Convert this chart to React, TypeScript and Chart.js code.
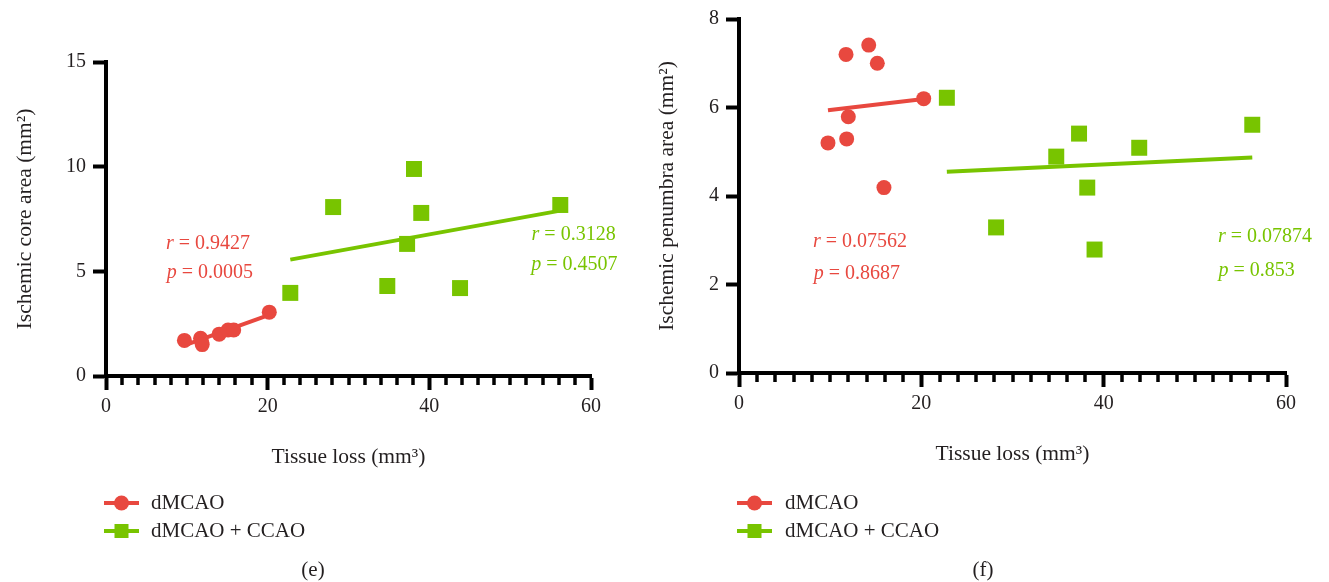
import React, { useEffect, useRef } from 'react';
import { Chart, registerables } from 'chart.js';

Chart.register(...registerables);

// ---------- shared ----------
const seriesNames = ['dMCAO', 'dMCAO + CCAO'];
const xTitle = 'Tissue loss (mm³)';
const xTicks = [0, 20, 40, 60];
const xMinorStep = 2;

// ---------- panel (e): ischemic core ----------
const coreTitle = 'Ischemic core area (mm²)';
const coreYTicks = [0, 5, 10, 15];
const coreRedX = [9.7, 11.7, 11.8, 11.9, 14.0, 15.1, 15.8, 20.2];
const coreRedY = [1.7, 1.8, 1.7, 1.5, 2.0, 2.2, 2.2, 3.05];
const coreGreenX = [22.8, 28.1, 34.8, 37.25, 38.1, 39.0, 43.8, 56.2];
const coreGreenY = [3.97, 8.07, 4.3, 6.31, 9.89, 7.79, 4.2, 8.17];
const coreRedFitX = [9.7, 20.2];
const coreRedFitY = [1.46, 2.92];
const coreGreenFitX = [22.8, 56.2];
const coreGreenFitY = [5.56, 7.9];
const coreRedStats = ['0.9427', '0.0005'];
const coreGreenStats = ['0.3128', '0.4507'];

// ---------- panel (f): ischemic penumbra ----------
const penTitle = 'Ischemic penumbra area (mm²)';
const penYTicks = [0, 2, 4, 6, 8];
const penRedX = [9.76, 11.74, 11.81, 11.99, 14.23, 15.17, 15.9, 20.26];
const penRedY = [5.2, 7.2, 5.29, 5.79, 7.41, 7.0, 4.19, 6.2];
const penGreenX = [22.8, 28.2, 34.8, 37.3, 38.2, 39.0, 43.9, 56.3];
const penGreenY = [6.22, 3.29, 4.89, 5.41, 4.19, 2.79, 5.09, 5.61];
const penRedFitX = [9.76, 20.26];
const penRedFitY = [5.94, 6.19];
const penGreenFitX = [22.8, 56.3];
const penGreenFitY = [4.55, 4.87];
const penRedStats = ['0.07562', '0.8687'];
const penGreenStats = ['0.07874', '0.853'];

// ---------- styles ----------
const RED = '#E8483F';
const GREEN = '#78C400';
const INK = '#231F20';
const FAMILY = "'Liberation Serif', 'DejaVu Serif', serif";
const TICK_SIZE = 20;
const TITLE_SIZE = 21.5;
const LEGEND_SIZE = 21;

type Note = { italic: string; rest: string; x: number; y: number; color: string };
type Spec = {
  left: number;
  width: number;
  height: number;
  padding: { left: number; right: number; top: number; bottom: number };
  yWidth: number;
  xHeight: number;
  yTitle: string;
  yTicks: number[];
  redX: number[]; redY: number[];
  greenX: number[]; greenY: number[];
  redFitX: number[]; redFitY: number[];
  greenFitX: number[]; greenFitY: number[];
  notes: Note[];
  legendLineX: [number, number];
  legendTextX: number;
  legendY: [number, number];
  caption: string;
  captionX: number;
  captionY: number;
};

const pts = (xs: number[], ys: number[]) => xs.map((x, i) => ({ x, y: ys[i] }));

const specs: Spec[] = [
  {
    left: 0, width: 640, height: 582,
    padding: { left: 12, right: 49, top: 62, bottom: 112 },
    yWidth: 94, xHeight: 94,
    yTitle: coreTitle, yTicks: coreYTicks,
    redX: coreRedX, redY: coreRedY, greenX: coreGreenX, greenY: coreGreenY,
    redFitX: coreRedFitX, redFitY: coreRedFitY, greenFitX: coreGreenFitX, greenFitY: coreGreenFitY,
    notes: [
      { italic: 'r', rest: ' = ' + coreRedStats[0], x: 7.42, y: 6.31, color: RED },
      { italic: 'p', rest: ' = ' + coreRedStats[1], x: 7.5, y: 4.92, color: RED },
      { italic: 'r', rest: ' = ' + coreGreenStats[0], x: 52.65, y: 6.74, color: GREEN },
      { italic: 'p', rest: ' = ' + coreGreenStats[1], x: 52.6, y: 5.3, color: GREEN },
    ],
    legendLineX: [104, 139], legendTextX: 151, legendY: [503, 531],
    caption: '(e)', captionX: 313, captionY: 570,
  },
  {
    left: 640, width: 689, height: 582,
    padding: { left: 14, right: 43, top: 18, bottom: 115 },
    yWidth: 85, xHeight: 94,
    yTitle: penTitle, yTicks: penYTicks,
    redX: penRedX, redY: penRedY, greenX: penGreenX, greenY: penGreenY,
    redFitX: penRedFitX, redFitY: penRedFitY, greenFitX: penGreenFitX, greenFitY: penGreenFitY,
    notes: [
      { italic: 'r', rest: ' = ' + penRedStats[0], x: 8.12, y: 2.97, color: RED },
      { italic: 'p', rest: ' = ' + penRedStats[1], x: 8.2, y: 2.25, color: RED },
      { italic: 'r', rest: ' = ' + penGreenStats[0], x: 52.54, y: 3.09, color: GREEN },
      { italic: 'p', rest: ' = ' + penGreenStats[1], x: 52.6, y: 2.32, color: GREEN },
    ],
    legendLineX: [97, 132], legendTextX: 145, legendY: [503, 531],
    caption: '(f)', captionX: 343, captionY: 570,
  },
];

const decorPlugin = (spec: Spec) => ({
  id: 'decor',
  afterDraw(chart: any) {
    const ctx: CanvasRenderingContext2D = chart.ctx;
    const xs = chart.scales.x;
    const ys = chart.scales.y;
    const area = chart.chartArea;
    ctx.save();
    // minor ticks on x axis
    ctx.strokeStyle = '#000';
    ctx.lineWidth = 3.5;
    for (let v = xs.min + xMinorStep; v < xs.max; v += xMinorStep) {
      if (xTicks.includes(v)) continue;
      const px = Math.round(xs.getPixelForValue(v));
      ctx.beginPath();
      ctx.moveTo(px, area.bottom);
      ctx.lineTo(px, area.bottom + 9);
      ctx.stroke();
    }
    // correlation notes
    ctx.textBaseline = 'middle';
    ctx.textAlign = 'left';
    for (const n of spec.notes) {
      const px = xs.getPixelForValue(n.x);
      const py = ys.getPixelForValue(n.y);
      ctx.fillStyle = n.color;
      ctx.font = `italic 20px ${FAMILY}`;
      ctx.fillText(n.italic, px, py);
      const w = ctx.measureText(n.italic).width;
      ctx.font = `20px ${FAMILY}`;
      ctx.fillText(n.rest, px + w, py);
    }
    // legend
    const colors = [RED, GREEN];
    const [lx0, lx1] = spec.legendLineX;
    const mx = (lx0 + lx1) / 2;
    seriesNames.forEach((name, i) => {
      const y = spec.legendY[i];
      ctx.strokeStyle = colors[i];
      ctx.fillStyle = colors[i];
      ctx.lineWidth = 4;
      ctx.beginPath();
      ctx.moveTo(lx0, y);
      ctx.lineTo(lx1, y);
      ctx.stroke();
      if (i === 0) {
        ctx.beginPath();
        ctx.arc(mx, y, 7.5, 0, Math.PI * 2);
        ctx.fill();
      } else {
        ctx.fillRect(mx - 7, y - 7, 14, 14);
      }
      ctx.fillStyle = INK;
      ctx.font = `${LEGEND_SIZE}px ${FAMILY}`;
      ctx.textAlign = 'left';
      ctx.fillText(name, spec.legendTextX, y);
    });
    // caption
    ctx.fillStyle = INK;
    ctx.textAlign = 'center';
    ctx.font = `${LEGEND_SIZE}px ${FAMILY}`;
    ctx.fillText(spec.caption, spec.captionX, spec.captionY);
    ctx.restore();
  },
});

function makeConfig(spec: Spec): any {
  const yMin = spec.yTicks[0];
  const yMax = spec.yTicks[spec.yTicks.length - 1];
  const axisCommon = {
    grid: {
      display: true,
      drawOnChartArea: false,
      drawTicks: true,
      tickLength: 13,
      tickWidth: 4,
      tickColor: '#000',
    },
    border: { display: true, width: 4, color: '#000' },
  };
  return {
    type: 'scatter',
    data: {
      datasets: [
        {
          label: seriesNames[0],
          data: pts(spec.redX, spec.redY),
          pointStyle: 'circle',
          pointRadius: 7.5,
          pointBackgroundColor: RED,
          pointBorderWidth: 0,
          showLine: false,
          order: 0,
        },
        {
          label: seriesNames[1],
          data: pts(spec.greenX, spec.greenY),
          pointStyle: 'rect',
          pointRadius: 11.3,
          pointBackgroundColor: GREEN,
          pointBorderWidth: 0,
          showLine: false,
          order: 0,
        },
        {
          label: seriesNames[0] + ' fit',
          data: pts(spec.redFitX, spec.redFitY),
          showLine: true,
          borderColor: RED,
          borderWidth: 4,
          pointRadius: 0,
          order: 1,
        },
        {
          label: seriesNames[1] + ' fit',
          data: pts(spec.greenFitX, spec.greenFitY),
          showLine: true,
          borderColor: GREEN,
          borderWidth: 4,
          pointRadius: 0,
          order: 1,
        },
      ],
    },
    options: {
      responsive: false,
      animation: false,
      devicePixelRatio: 1,
      layout: { padding: spec.padding },
      plugins: { legend: { display: false }, tooltip: { enabled: false } },
      scales: {
        x: {
          type: 'linear',
          position: 'bottom',
          min: xTicks[0],
          max: xTicks[xTicks.length - 1],
          afterBuildTicks: (s: any) => { s.ticks = xTicks.map((v) => ({ value: v })); },
          ticks: { font: { family: FAMILY, size: TICK_SIZE }, color: INK, padding: 5, maxRotation: 0 },
          ...axisCommon,
          grid: { ...axisCommon.grid, tickLength: 14 },
          title: { display: true, text: xTitle, font: { family: FAMILY, size: TITLE_SIZE }, color: INK, padding: 0 },
          afterFit: (s: any) => { s.height = spec.xHeight; },
        },
        y: {
          type: 'linear',
          position: 'left',
          min: yMin,
          max: yMax,
          afterBuildTicks: (s: any) => { s.ticks = spec.yTicks.map((v) => ({ value: v })); },
          ticks: { font: { family: FAMILY, size: TICK_SIZE }, color: INK, padding: 7 },
          ...axisCommon,
          title: { display: true, text: spec.yTitle, font: { family: FAMILY, size: TITLE_SIZE }, color: INK, padding: 0 },
          afterFit: (s: any) => { s.width = spec.yWidth; },
        },
      },
    },
    plugins: [decorPlugin(spec)],
  };
}

function Panel({ spec }: { spec: Spec }) {
  const ref = useRef<HTMLCanvasElement>(null);
  useEffect(() => {
    if (!ref.current) return;
    const chart = new Chart(ref.current, makeConfig(spec));
    return () => chart.destroy();
  }, [spec]);
  return (
    <canvas
      ref={ref}
      width={spec.width}
      height={spec.height}
      style={{ position: 'absolute', left: spec.left, top: 0, width: spec.width, height: spec.height, display: 'block' }}
    />
  );
}

export default function App() {
  return (
    <div style={{ position: 'absolute', left: 0, top: 0, width: 1329, height: 582, background: '#fff', overflow: 'hidden' }}>
      {specs.map((s) => (
        <Panel key={s.caption} spec={s} />
      ))}
    </div>
  );
}
